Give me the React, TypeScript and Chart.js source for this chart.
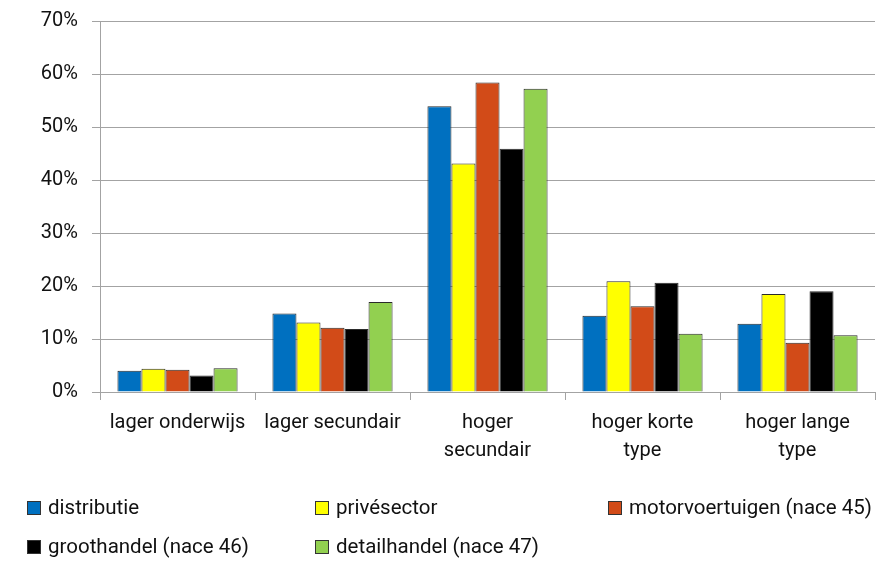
import React, { useEffect, useRef } from "react";
import { Chart, registerables } from "chart.js";

Chart.register(...registerables);

const categories: string[][] = [
  ["lager onderwijs"],
  ["lager secundair"],
  ["hoger", "secundair"],
  ["hoger korte", "type"],
  ["hoger lange", "type"],
];
const seriesNames = [
  "distributie",
  "privésector",
  "motorvoertuigen (nace 45)",
  "groothandel (nace 46)",
  "detailhandel (nace 47)",
];
const distributie = [4.0, 14.8, 53.9, 14.4, 12.9];
const priveSector = [4.4, 13.1, 43.1, 20.9, 18.5];
const motorvoertuigen = [4.2, 12.1, 58.4, 16.2, 9.3];
const groothandel = [3.1, 11.9, 45.9, 20.6, 19.0];
const detailhandel = [4.5, 17.0, 57.2, 11.0, 10.7];
const seriesColors = ["#0070C0", "#FFFF00", "#D24B18", "#000000", "#92D050"];
const yMax = 70;
const yStep = 10;

const FONT = "Roboto, 'Noto Sans', sans-serif";
const TEXT = "#111111";
const GRID = "#a3a3a3";

const legendPlugin = {
  id: "gridLegend",
  afterDraw(chart: any) {
    const ctx = chart.ctx;
    const colX = [27, 315, 608];
    const rowY = [508, 547];
    ctx.save();
    ctx.font = `20.5px ${FONT}`;
    ctx.textBaseline = "middle";
    ctx.textAlign = "left";
    chart.data.datasets.forEach((ds: any, i: number) => {
      const x = colX[i % 3];
      const y = rowY[Math.floor(i / 3)];
      ctx.fillStyle = ds.backgroundColor;
      ctx.fillRect(x + 0.5, y - 6.5, 13, 13);
      ctx.strokeStyle = "#333";
      ctx.lineWidth = 1;
      ctx.strokeRect(x + 0.5, y - 6.5, 13, 13);
      ctx.fillStyle = TEXT;
      ctx.fillText(ds.label, x + 21, y + 1);
    });
    ctx.restore();
  },
};

export default function App() {
  const ref = useRef<HTMLCanvasElement | null>(null);
  useEffect(() => {
    if (!ref.current) return;
    const values = [distributie, priveSector, motorvoertuigen, groothandel, detailhandel];
    const chart = new Chart(ref.current, {
      type: "bar",
      data: {
        labels: categories,
        datasets: values.map((v, i) => ({
          label: seriesNames[i],
          data: v,
          backgroundColor: seriesColors[i],
          borderColor: "#2a2a2a",
          borderWidth: 1,
          categoryPercentage: 0.775,
          barPercentage: 1,
        })),
      },
      options: {
        animation: false,
        responsive: false,
        maintainAspectRatio: false,
        layout: { padding: { top: 0, right: 16, left: 0, bottom: 0 } },
        plugins: { legend: { display: false }, tooltip: { enabled: false } },
        scales: {
          x: {
            grid: {
              drawOnChartArea: false,
              drawTicks: true,
              tickLength: 8,
              color: GRID,
              offset: true,
            },
            border: { color: GRID, width: 1 },
            ticks: {
              autoSkip: false,
              maxRotation: 0,
              minRotation: 0,
              padding: 9,
              color: TEXT,
              font: { family: FONT, size: 20, lineHeight: 1.4 },
            },
            afterFit(scale: any) {
              scale.height = 171;
            },
          },
          y: {
            min: 0,
            max: yMax,
            ticks: {
              stepSize: yStep,
              color: TEXT,
              padding: 14,
              font: { family: FONT, size: 20, lineHeight: 0.7 },
              callback: (v: any) => `${v}%`,
            },
            grid: { color: GRID, tickLength: 8, lineWidth: 1 },
            border: { color: GRID, width: 1 },
            afterFit(scale: any) {
              scale.width = 100;
            },
          },
        },
      },
      plugins: [legendPlugin],
    });
    return () => chart.destroy();
  }, []);
  return (
    <div style={{ position: "fixed", left: 0, top: 0, width: 891, height: 563, background: "#fff" }}>
      <canvas ref={ref} width={891} height={563} style={{ width: 891, height: 563 }} />
    </div>
  );
}
